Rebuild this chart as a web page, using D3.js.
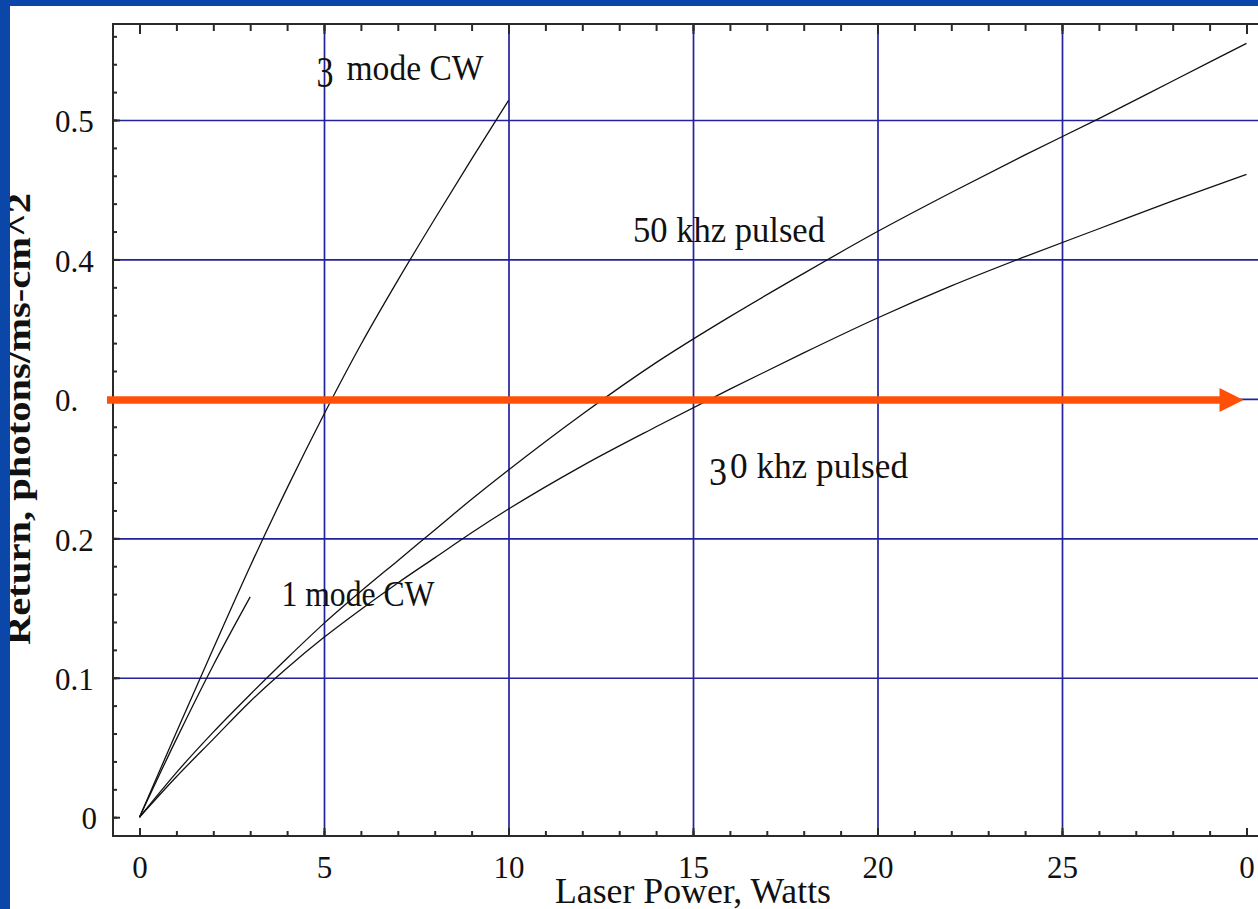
<!DOCTYPE html>
<html>
<head>
<meta charset="utf-8">
<script src="https://cdn.jsdelivr.net/npm/d3@7/dist/d3.min.js"></script>
<style>
  html, body { margin: 0; padding: 0; background: #ffffff; }
  svg { display: block; }
</style>
</head>
<body>
<svg id="chart" width="1258" height="909"></svg>
<script>
// Guide-star return versus laser power for several laser formats.
const xTickValues = [0, 5, 10, 15, 20, 25, 30];
const xTickLabels = ["0", "5", "10", "15", "20", "25", "0"];
const yTickValues = [0, 0.1, 0.2, 0.3, 0.4, 0.5];
const yTickLabels = ["0", "0.1", "0.2", "0.", "0.4", "0.5"];
const xGridValues = [5, 10, 15, 20, 25];
const yGridValues = [0.1, 0.2, 0.3, 0.4, 0.5];

// 3 mode CW
const powerCW3 = [0, 1, 2, 3, 4, 5, 6, 7, 8, 9, 10];
const returnCW3 = [0, 0.061, 0.121, 0.180, 0.236, 0.289, 0.339, 0.385, 0.429, 0.472, 0.514];
// 1 mode CW
const powerCW1 = [0, 1, 2, 3];
const returnCW1 = [0, 0.056, 0.109, 0.158];
// pulsed formats share the same power samples
const powerPulsed = [0, 1, 2, 3, 4, 5, 6, 7, 8, 9, 10, 12, 14, 16, 18, 20, 22, 24, 26, 28, 30];
const return50k = [0, 0.032, 0.061, 0.088, 0.114, 0.139, 0.162, 0.184, 0.206, 0.228, 0.249,
                   0.289, 0.326, 0.359, 0.390, 0.420, 0.448, 0.475, 0.501, 0.528, 0.555];
const return30k = [0, 0.029, 0.056, 0.083, 0.107, 0.129, 0.149, 0.168, 0.186, 0.204, 0.221,
                   0.252, 0.280, 0.307, 0.333, 0.358, 0.381, 0.402, 0.422, 0.442, 0.461];
// required return level marked by the arrow
const targetReturn = 0.3;

const svg = d3.select("#chart");
const W = 1258, H = 909;

// plot frame
const frame = { left: 113, top: 24, bottom: 836, right: 1264 };

const x = d3.scaleLinear().domain([0, 30]).range([139.5, 1246.5]);
const y = d3.scaleLinear().domain([0, 0.5]).range([817.2, 120]);

const gridColor = "#22229a";
const tickFont = "'Liberation Serif', 'Times New Roman', serif";

// gridlines
svg.append("g")
  .attr("transform", `translate(0,${frame.bottom})`)
  .call(d3.axisBottom(x).tickValues(xGridValues).tickSize(-(frame.bottom - frame.top)).tickFormat(""))
  .call(g => g.select(".domain").remove())
  .call(g => g.selectAll("line").attr("stroke", gridColor).attr("stroke-width", 1.7));

svg.append("g")
  .attr("transform", `translate(${frame.left},0)`)
  .call(d3.axisLeft(y).tickValues(yGridValues).tickSize(-(frame.right - frame.left)).tickFormat(""))
  .call(g => g.select(".domain").remove())
  .call(g => g.selectAll("line").attr("stroke", gridColor).attr("stroke-width", 1.7));

// curves
const series = [
  { px: powerCW3, py: returnCW3 },
  { px: powerCW1, py: returnCW1 },
  { px: powerPulsed, py: return50k },
  { px: powerPulsed, py: return30k }
];
const line = d3.line()
  .x(d => x(d[0]))
  .y(d => y(d[1]))
  .curve(d3.curveMonotoneX);

svg.append("g").selectAll("path")
  .data(series)
  .join("path")
  .attr("d", s => line(s.px.map((p, i) => [p, s.py[i]])))
  .attr("fill", "none")
  .attr("stroke", "#111")
  .attr("stroke-width", 1.3);

// frame lines
svg.append("path")
  .attr("d", `M${frame.right},${frame.top}H${frame.left}V${frame.bottom}H${frame.right}`)
  .attr("fill", "none")
  .attr("stroke", "#2a2a2a")
  .attr("stroke-width", 2);

// minor and major ticks, bottom
svg.append("g")
  .attr("transform", `translate(0,${frame.bottom})`)
  .call(d3.axisBottom(x).tickValues(d3.range(0, 31)).tickSize(-5).tickFormat(""))
  .call(g => g.select(".domain").remove())
  .call(g => g.selectAll("line").attr("stroke", "#2a2a2a").attr("stroke-width", 2));

svg.append("g")
  .attr("transform", `translate(0,${frame.bottom})`)
  .call(d3.axisBottom(x).tickValues(xTickValues).tickSize(-8).tickPadding(20)
        .tickFormat((d, i) => xTickLabels[i]))
  .call(g => g.select(".domain").remove())
  .call(g => g.selectAll("line").attr("stroke", "#2a2a2a").attr("stroke-width", 2))
  .call(g => g.selectAll("text")
        .attr("font-family", tickFont).attr("font-size", 31).attr("fill", "#111"));

// ticks, top
svg.append("g")
  .attr("transform", `translate(0,${frame.top})`)
  .call(d3.axisTop(x).tickValues(d3.range(0, 31)).tickSize(-7).tickFormat(""))
  .call(g => g.select(".domain").remove())
  .call(g => g.selectAll("line").attr("stroke", "#2a2a2a").attr("stroke-width", 2));

svg.append("g")
  .attr("transform", `translate(0,${frame.top})`)
  .call(d3.axisTop(x).tickValues(xTickValues).tickSize(-10).tickFormat(""))
  .call(g => g.select(".domain").remove())
  .call(g => g.selectAll("line").attr("stroke", "#2a2a2a").attr("stroke-width", 2));

// ticks, left
svg.append("g")
  .attr("transform", `translate(${frame.left},0)`)
  .call(d3.axisLeft(y).tickValues(d3.range(0, 0.5701, 0.02)).tickSize(-4).tickFormat(""))
  .call(g => g.select(".domain").remove())
  .call(g => g.selectAll("line").attr("stroke", "#2a2a2a").attr("stroke-width", 2));

svg.append("g")
  .attr("transform", `translate(${frame.left},0)`)
  .call(d3.axisLeft(y).tickValues(yTickValues).tickSize(-7).tickPadding(16)
        .tickFormat((d, i) => yTickLabels[i]))
  .call(g => g.select(".domain").remove())
  .call(g => g.selectAll("line").attr("stroke", "#2a2a2a").attr("stroke-width", 2))
  .call(g => g.selectAll("text")
        .attr("font-family", tickFont).attr("font-size", 31).attr("fill", "#111")
        .attr("dy", "0.38em")
        .each(function(d, i) {
          const t = d3.select(this);
          if (yTickLabels[i].includes(".")) {
            t.attr("text-anchor", "start").attr("x", 55 - frame.left);
          } else {
            t.attr("text-anchor", "end").attr("x", 97 - frame.left);
          }
        }));

// target return arrow
const arrowY = y(targetReturn) + 1;
const arrowColor = "#ff5008";
const tipX = x(30) - 3;
svg.append("line")
  .attr("x1", frame.left - 6).attr("x2", tipX - 20)
  .attr("y1", arrowY).attr("y2", arrowY)
  .attr("stroke", arrowColor).attr("stroke-width", 7.5);
svg.append("path")
  .attr("d", `M${tipX - 24},${arrowY - 12}L${tipX},${arrowY}L${tipX - 24},${arrowY + 12}Z`)
  .attr("fill", arrowColor);

// curve annotations
const annFont = "'Liberation Serif', 'Times New Roman', serif";
const notes = [
  { text: "3", x: 316.5, y: 87, size: 44, len: 17 },
  { text: "mode CW", x: 346.5, y: 79.5, size: 35, len: 137 },
  { text: "50 khz pulsed", x: 633, y: 241.5, size: 35, len: 192 },
  { text: "3", x: 709, y: 485, size: 40, len: 18 },
  { text: "0 khz pulsed", x: 730, y: 478, size: 35, len: 178 },
  { text: "1 mode CW", x: 281.5, y: 606, size: 35, len: 153 }
];
svg.append("g").selectAll("text")
  .data(notes)
  .join("text")
  .attr("x", d => d.x).attr("y", d => d.y)
  .attr("font-family", annFont)
  .attr("font-size", d => d.size)
  .attr("textLength", d => d.len)
  .attr("lengthAdjust", "spacingAndGlyphs")
  .attr("fill", "#111")
  .text(d => d.text);

// axis titles
svg.append("text")
  .attr("x", x(15)).attr("y", 903)
  .attr("text-anchor", "middle")
  .attr("font-family", annFont)
  .attr("font-size", 35)
  .attr("textLength", 276)
  .attr("lengthAdjust", "spacingAndGlyphs")
  .attr("fill", "#111")
  .text("Laser Power, Watts");

svg.append("text")
  .attr("transform", "translate(29.5,419) rotate(-90)")
  .attr("text-anchor", "middle")
  .attr("font-family", annFont)
  .attr("font-weight", "bold")
  .attr("font-size", 34)
  .attr("textLength", 452)
  .attr("lengthAdjust", "spacingAndGlyphs")
  .attr("fill", "#111")
  .text("Return, photons/ms-cm^2");

// slide border
const borderColor = "#0a47a9";
svg.append("rect").attr("x", 0).attr("y", 0).attr("width", 10).attr("height", H).attr("fill", borderColor);
svg.append("rect").attr("x", 0).attr("y", 0).attr("width", W).attr("height", 6).attr("fill", borderColor);
</script>
</body>
</html>
